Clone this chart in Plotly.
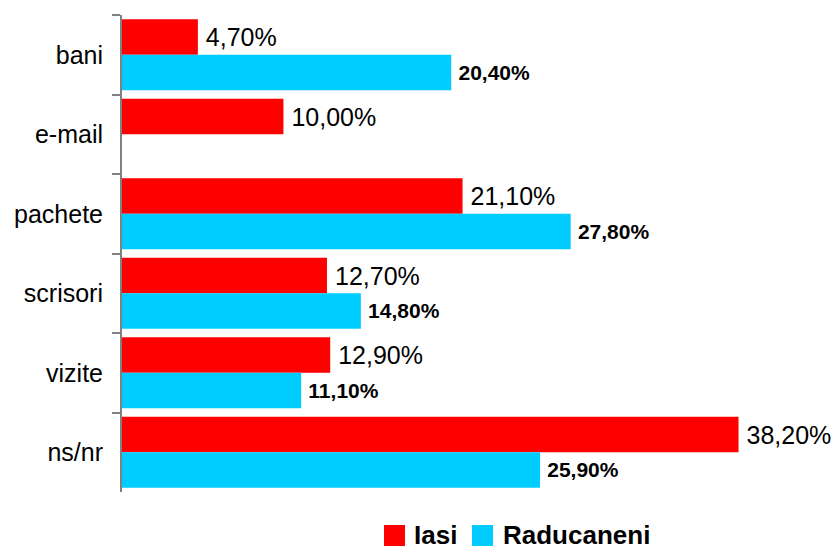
import plotly.graph_objects as go

categories = ["bani", "e-mail", "pachete", "scrisori", "vizite", "ns/nr"]
iasi = [4.7, 10.0, 21.1, 12.7, 12.9, 38.2]
raducaneni = [20.4, None, 27.8, 14.8, 11.1, 25.9]
series_names = ["Iasi", "Raducaneni"]
colors = ["#ff0000", "#00ccff"]

def fmt(v):
    return "" if v is None else "\u2009" + f"{v:.2f}".replace(".", ",") + "%"

fig = go.Figure()
fig.add_trace(go.Bar(
    y=categories, x=iasi, orientation="h", name=series_names[0],
    marker=dict(color=colors[0], line=dict(width=0)),
    text=[fmt(v) for v in iasi], textposition="outside",
    textfont=dict(family="Liberation Sans, Arial", size=25, color="#000000"),
    cliponaxis=False, showlegend=False, hoverinfo="skip",
))
fig.add_trace(go.Bar(
    y=categories, x=raducaneni, orientation="h", name=series_names[1],
    marker=dict(color=colors[1], line=dict(width=0)),
    text=[fmt(v) for v in raducaneni], textposition="outside",
    textfont=dict(family="Liberation Sans, Arial", size=21, color="#000000", weight="bold"),
    cliponaxis=False, showlegend=False, hoverinfo="skip",
))

fig.update_layout(
    width=833, height=551,
    margin=dict(l=122, r=17, t=15, b=59),
    paper_bgcolor="white", plot_bgcolor="white",
    barmode="group", bargap=0.11, bargroupgap=0,
    font=dict(family="Liberation Sans, Arial", size=25, color="#000000"),
    uniformtext=dict(mode=False),
)
fig.update_xaxes(range=[0, 43], visible=False, showgrid=False, zeroline=False)
fig.update_yaxes(
    autorange="reversed", showgrid=False, zeroline=False,
    showline=True, linecolor="#808080", linewidth=2,
    ticks="outside", tickson="boundaries", ticklen=8, tickwidth=1.5, tickcolor="#808080",
    tickfont=dict(family="Liberation Sans, Arial", size=25, color="#000000"),
    ticklabelstandoff=12,
)

# custom legend
legend_items = [(0.3775, 0.4078, 0.419), (0.5043, 0.5346, 0.5476)]
for (x0, x1, tx), name, col in zip(legend_items, series_names, colors):
    fig.add_shape(type="rect", xref="paper", yref="paper", x0=x0, x1=x1,
                  y0=-0.0692, y1=-0.1132, fillcolor=col, line=dict(width=0))
    fig.add_annotation(xref="paper", yref="paper", x=tx, y=-0.090,
                       xanchor="left", yanchor="middle", text=f"<b>{name}</b>",
                       showarrow=False, borderpad=0,
                       font=dict(family="Liberation Sans, Arial", size=26, color="#000000"))

fig.write_html("out.html", config={"displayModeBar": False},
               post_script="document.body.style.margin='0';document.body.style.overflow='hidden';")
